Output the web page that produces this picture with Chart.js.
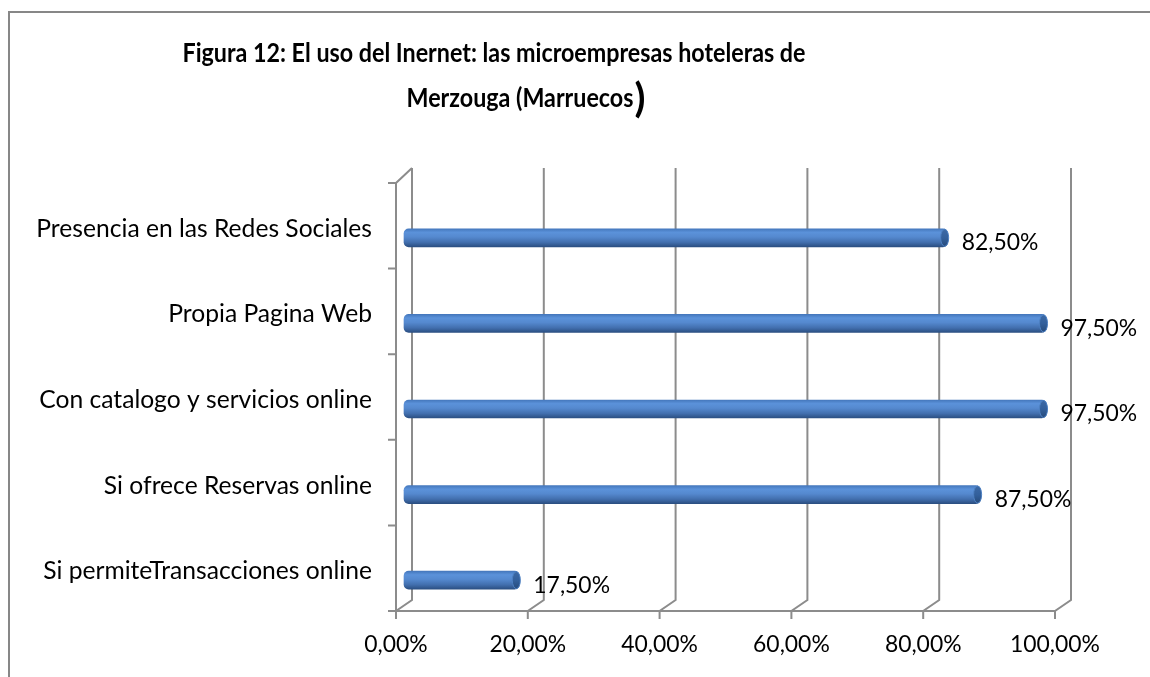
<!DOCTYPE html>
<html>
<head>
<meta charset="utf-8">
<script src="https://cdn.jsdelivr.net/npm/chart.js@4.4.0/dist/chart.umd.min.js"></script>
<style>
  html, body { margin: 0; padding: 0; background: #fff; }
  canvas { display: block; }
</style>
</head>
<body>
<canvas id="grafico" width="1150" height="677"></canvas>
<script>
const titulo1 = "Figura 12: El uso del Inernet: las microempresas hoteleras de";
const titulo2 = "Merzouga (Marruecos";
const categorias = [
  "Presencia en las Redes Sociales",
  "Propia Pagina Web",
  "Con catalogo y servicios online",
  "Si ofrece Reservas online",
  "Si permiteTransacciones online"
];
const valores = [82.5, 97.5, 97.5, 87.5, 17.5];
const marcasX = [0, 20, 40, 60, 80, 100];

const fonte = "Lato";

// tamanho de fonte que faz o texto ocupar a largura medida na figura
function tamanho(texto, peso, largura) {
  const c = document.createElement("canvas").getContext("2d");
  c.font = `${peso} 100px ${fonte}`;
  return 100 * largura / c.measureText(texto).width;
}
const tamRotulo = tamanho(categorias[0], "normal", 336);
const tamEixo = tamanho("100,00%", "normal", 90);

function pct(v) {
  return v.toFixed(2).replace(".", ",") + "%";
}

const fundo = {
  id: "fundo",
  beforeDraw(chart) {
    const ctx = chart.ctx;
    ctx.save();
    ctx.strokeStyle = "#878787";
    ctx.lineWidth = 2;
    ctx.beginPath();
    ctx.moveTo(9, 677);
    ctx.lineTo(9, 12);
    ctx.lineTo(1150, 12);
    ctx.stroke();
    ctx.restore();

    // titulo: Lato negrito estreitado para a largura da Calibri original
    ctx.save();
    ctx.fillStyle = "#000";
    ctx.textBaseline = "alphabetic";
    ctx.textAlign = "center";
    ctx.font = `bold 27px ${fonte}`;
    const sx = 623 / ctx.measureText(titulo1).width;
    const w2 = ctx.measureText(titulo2).width * sx;
    ctx.save();
    ctx.translate(494, 0);
    ctx.scale(sx, 1);
    ctx.fillText(titulo1, 0, 62);
    ctx.restore();
    ctx.save();
    ctx.translate(520, 0);
    ctx.scale(sx, 1);
    ctx.fillText(titulo2, 0, 107);
    ctx.restore();
    ctx.font = `bold 40px ${fonte}`;
    ctx.textAlign = "left";
    ctx.fillText(")", 520 + w2 / 2 + 1, 112);
    ctx.restore();
  },
  beforeDatasetsDraw(chart) {
    const { ctx, chartArea: a, scales: { x, y } } = chart;
    ctx.save();
    ctx.strokeStyle = "#8c8c8c";
    ctx.lineWidth = 2;
    ctx.beginPath();
    marcasX.forEach(v => {
      const px = x.getPixelForValue(v);
      ctx.moveTo(px + 16, a.top - 15);
      ctx.lineTo(px + 16, a.bottom - 11);
      ctx.lineTo(px, a.bottom);
      ctx.lineTo(px, a.bottom + 8);
    });
    ctx.moveTo(a.left, a.bottom);
    ctx.lineTo(a.right, a.bottom);
    ctx.moveTo(a.left + 16, a.top - 15);
    ctx.lineTo(a.left, a.top);
    ctx.lineTo(a.left, a.bottom);
    const meio = (y.getPixelForValue(1) - y.getPixelForValue(0)) / 2;
    for (let i = 0; i <= categorias.length; i++) {
      const py = y.getPixelForValue(i) - meio;
      ctx.moveTo(a.left - 8, py);
      ctx.lineTo(a.left, py);
    }
    ctx.stroke();
    ctx.restore();

    // barras ficam no meio da profundidade
    ctx.save();
    ctx.translate(8, 12);
  },
  afterDatasetsDraw(chart) {
    const ctx = chart.ctx;
    ctx.restore();
    const barras = chart.getDatasetMeta(0).data;
    ctx.save();
    barras.forEach((el, i) => {
      const cx = el.x + 8 - 3;
      const cy = el.y + 12;
      const g = ctx.createLinearGradient(0, cy - 9, 0, cy + 9);
      g.addColorStop(0, "#3d6aa6");
      g.addColorStop(0.5, "#33609c");
      g.addColorStop(1, "#264a7a");
      ctx.fillStyle = g;
      ctx.strokeStyle = "#4d80c2";
      ctx.lineWidth = 1;
      ctx.beginPath();
      ctx.ellipse(cx, cy, 4, 8.5, 0, 0, Math.PI * 2);
      ctx.fill();
      ctx.stroke();

      ctx.fillStyle = "#000";
      ctx.font = `${tamEixo}px ${fonte}`;
      ctx.textAlign = "left";
      ctx.textBaseline = "middle";
      ctx.fillText(pct(valores[i]), el.x + 22, el.y + 17);
    });
    ctx.restore();
  }
};

new Chart(document.getElementById("grafico"), {
  type: "bar",
  data: {
    labels: categorias,
    datasets: [
      {
        data: valores,
        barThickness: 18,
        borderRadius: 5,
        borderSkipped: false,
        clip: false,
        backgroundColor(c) {
          const chart = c.chart;
          if (!chart.chartArea || c.type !== "data") return "#4f81bd";
          const py = chart.scales.y.getPixelForValue(c.dataIndex);
          const g = chart.ctx.createLinearGradient(0, py - 9, 0, py + 9);
          g.addColorStop(0, "#4578bd");
          g.addColorStop(0.2, "#5b92da");
          g.addColorStop(0.45, "#5589cf");
          g.addColorStop(0.75, "#426fae");
          g.addColorStop(1, "#2b4f82");
          return g;
        }
      }
    ]
  },
  options: {
    indexAxis: "y",
    responsive: false,
    devicePixelRatio: 1,
    animation: false,
    layout: { padding: { top: 183, right: 95, left: 0, bottom: 0 } },
    plugins: {
      legend: { display: false },
      tooltip: { enabled: false }
    },
    scales: {
      x: {
        min: 0,
        max: 100,
        afterFit(s) { s.height = 66; },
        grid: { display: false, drawTicks: false },
        border: { display: false },
        ticks: {
          stepSize: 20,
          padding: 20,
          color: "#000",
          font: { family: fonte, size: tamEixo },
          callback: v => pct(v)
        }
      },
      y: {
        afterFit(s) { s.width = 396; },
        grid: { display: false, drawTicks: false },
        border: { display: false },
        ticks: {
          padding: 24,
          labelOffset: 3,
          color: "#000",
          font: { family: fonte, size: tamRotulo }
        }
      }
    }
  },
  plugins: [fundo]
});
</script>
</body>
</html>
